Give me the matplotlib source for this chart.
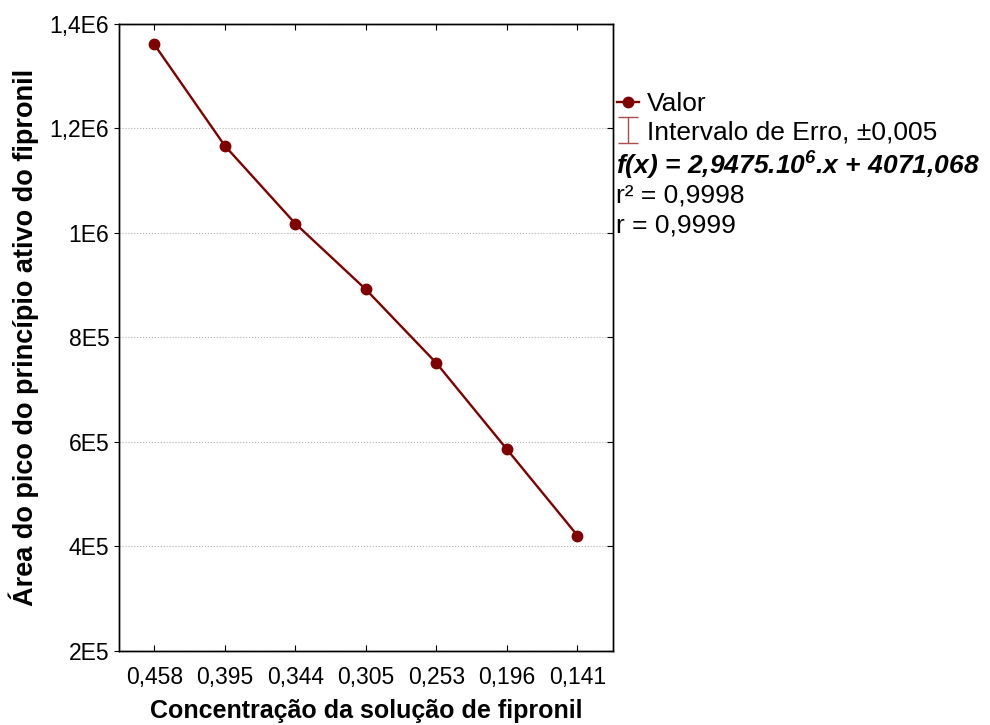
import matplotlib
matplotlib.use('Agg')
from matplotlib import pyplot as plt
from matplotlib.lines import Line2D
from matplotlib.collections import LineCollection
from matplotlib.container import ErrorbarContainer

plt.rcParams['font.family'] = ['Liberation Sans', 'DejaVu Sans']
plt.rcParams['mathtext.fontset'] = 'custom'
plt.rcParams['mathtext.rm'] = 'Liberation Sans:italic:bold'
plt.rcParams['mathtext.it'] = 'Liberation Sans:italic:bold'

# dados
concentracao = ['0,458', '0,395', '0,344', '0,305', '0,253', '0,196', '0,141']
area = [1361000, 1167000, 1018000, 892000, 751000, 586000, 421000]
erro = 0.005
y_ticks = [200000, 400000, 600000, 800000, 1000000, 1200000, 1400000]
y_labels = ['2E5', '4E5', '6E5', '8E5', '1E6', '1,2E6', '1,4E6']

cor = '#800000'
cor_erro = '#b04a4a'
fig = plt.figure(figsize=(9.9, 7.25), dpi=100)
ax = fig.add_axes([0.1202, 0.1021, 0.4987, 0.8648])

x = list(range(len(concentracao)))
linha, = ax.plot(x, area, color=cor, lw=1.7, marker='o', ms=7.5, label='Valor', zorder=3)
# barras de erro (+-0,005, invisiveis na escala)
ax.errorbar(x, area, yerr=erro, fmt='none', ecolor=cor_erro, elinewidth=1, capsize=0, zorder=2)

# simbolo da legenda para o intervalo de erro
cap = Line2D([], [], color=cor_erro, marker='_', markersize=14, markeredgewidth=1)
barra = LineCollection([], colors=[cor_erro], linewidths=1)
proxy = ErrorbarContainer((None, (cap, cap), (barra,)), has_xerr=False, has_yerr=True,
                          label='Intervalo de Erro, ±0,005')

ax.set_xlim(-0.5, len(concentracao) - 0.5)
ax.set_ylim(y_ticks[0], y_ticks[-1])
ax.set_xticks(x)
ax.set_xticklabels(concentracao, fontsize=16.5)
ax.set_yticks(y_ticks)
ax.set_yticklabels(y_labels, fontsize=16.5)
ax.tick_params(axis='x', direction='in', top=True, length=4, pad=10.5)
ax.tick_params(axis='y', direction='out', length=3.5, pad=3.5)
ax.grid(axis='y', color='#b0b0b0', ls=':', lw=0.8)

ax2 = ax.twinx()
ax2.set_ylim(ax.get_ylim())
ax2.set_yticks(y_ticks)
ax2.tick_params(axis='y', direction='in', length=4, labelright=False)

for a in (ax, ax2):
    for s in a.spines.values():
        s.set_linewidth(1.0)

ax.set_xlabel('Concentração da solução de fipronil', fontsize=18, fontweight='bold', labelpad=7.5)
ax.set_ylabel('Área do pico do princípio ativo do fipronil', fontsize=19.5, fontweight='bold', labelpad=8)

ax.legend(handles=[linha, proxy], loc='upper left', bbox_to_anchor=(0.623, 0.873),
          bbox_transform=fig.transFigure, frameon=False, fontsize=19, handlelength=0.85,
          handletextpad=0.3, borderaxespad=0, borderpad=0, labelspacing=0.15)

fig.text(0.622, 0.771, 'f(x) = 2,9475.10$^{6}$.x + 4071,068', fontsize=19,
         fontweight='bold', style='italic', va='center')
fig.text(0.622, 0.730, 'r² = 0,9998', fontsize=19, va='center')
fig.text(0.622, 0.689, 'r = 0,9999', fontsize=19, va='center')

plt.savefig('out.png', dpi=100)
plt.close('all')
